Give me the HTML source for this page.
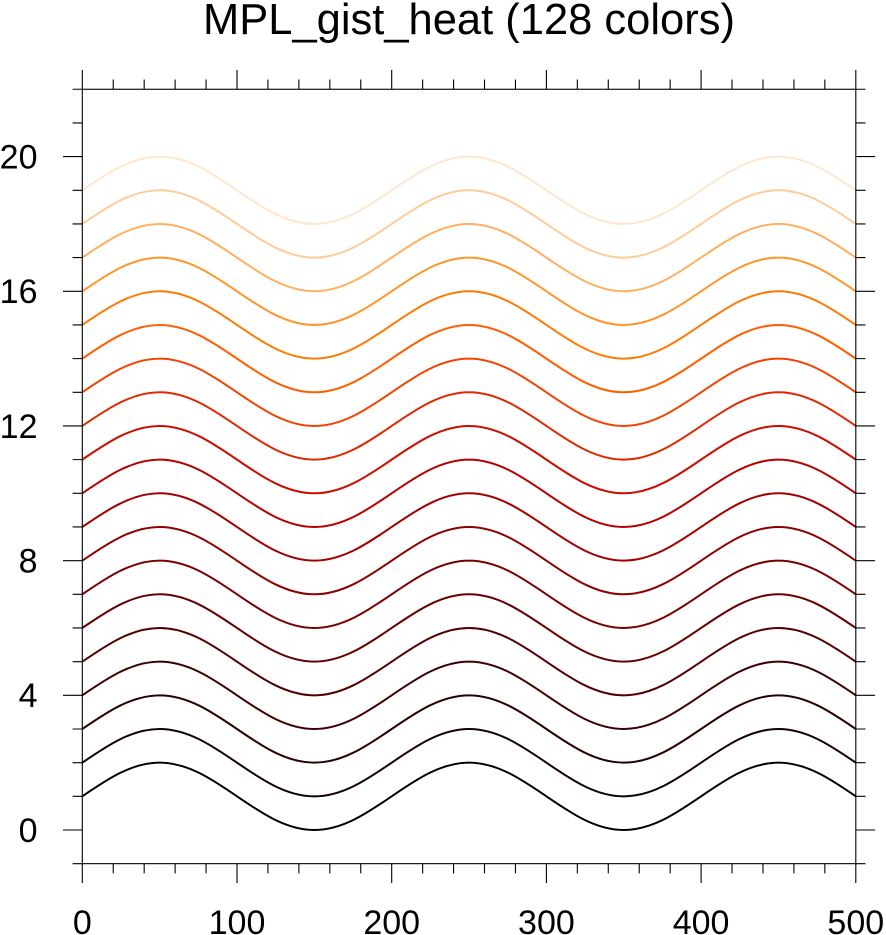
<!DOCTYPE html>
<html><head><meta charset="utf-8"><style>
html,body{margin:0;padding:0;background:#fff;}
svg{display:block;}
text{font-family:"Liberation Sans",Arial,sans-serif;fill:#000;}
</style></head><body>
<svg width="886" height="935" viewBox="0 0 886 935" xmlns="http://www.w3.org/2000/svg">
<defs>
<path id="c" d="M82.3,796.33 c25.22,-17.25 49.35,-33.67 77.35,-33.67 c28,0 52.13,16.42 77.35,33.67 c25.22,17.25 49.35,33.67 77.35,33.67 c28,0 52.13,-16.42 77.35,-33.67 c25.22,-17.25 49.35,-33.67 77.35,-33.67 c28,0 52.13,16.42 77.35,33.67 c25.22,17.25 49.35,33.67 77.35,33.67 c28,0 52.13,-16.42 77.35,-33.67 c25.22,-17.25 49.35,-33.67 77.35,-33.67 c28,0 52.13,16.42 77.35,33.67"/>
</defs>
<rect width="886" height="935" fill="#fff"/>
<text x="469" y="34" font-size="43.5" text-anchor="middle">MPL_gist_heat (128 colors)</text>

<g fill="none" stroke-width="2" stroke-linejoin="round">
<use href="#c" stroke="#000000"/>
<use href="#c" stroke="#140000" transform="translate(0,-33.67)"/>
<use href="#c" stroke="#280000" transform="translate(0,-67.34)"/>
<use href="#c" stroke="#3d0000" transform="translate(0,-101.01)"/>
<use href="#c" stroke="#510000" transform="translate(0,-134.68)"/>
<use href="#c" stroke="#650000" transform="translate(0,-168.35)"/>
<use href="#c" stroke="#790000" transform="translate(0,-202.02)"/>
<use href="#c" stroke="#8d0000" transform="translate(0,-235.69)"/>
<use href="#c" stroke="#a20000" transform="translate(0,-269.36)"/>
<use href="#c" stroke="#b60000" transform="translate(0,-303.03)"/>
<use href="#c" stroke="#ca0e00" transform="translate(0,-336.70)"/>
<use href="#c" stroke="#de2900" transform="translate(0,-370.37)"/>
<use href="#c" stroke="#f24400" transform="translate(0,-404.04)"/>
<use href="#c" stroke="#ff5f00" transform="translate(0,-437.71)"/>
<use href="#c" stroke="#ff7a00" transform="translate(0,-471.38)"/>
<use href="#c" stroke="#ff952b" transform="translate(0,-505.05)"/>
<use href="#c" stroke="#ffb061" transform="translate(0,-538.72)"/>
<use href="#c" stroke="#ffcb97" transform="translate(0,-572.39)"/>
<use href="#c" stroke="#ffe6cc" transform="translate(0,-606.06)"/>
</g>

<g fill="none" stroke="#000" stroke-width="1.1">
<rect x="82.3" y="89.26" width="773.5" height="774.41"/>
<path d="M82.3,89.26V70 M237,89.26V70 M391.7,89.26V70 M546.4,89.26V70 M701.1,89.26V70 M855.8,89.26V70
M82.3,863.67V883 M237,863.67V883 M391.7,863.67V883 M546.4,863.67V883 M701.1,863.67V883 M855.8,863.67V883"/>
<path d="M113.24,89.26V79.5 M144.18,89.26V79.5 M175.12,89.26V79.5 M206.06,89.26V79.5
M267.94,89.26V79.5 M298.88,89.26V79.5 M329.82,89.26V79.5 M360.76,89.26V79.5
M422.64,89.26V79.5 M453.58,89.26V79.5 M484.52,89.26V79.5 M515.46,89.26V79.5
M577.34,89.26V79.5 M608.28,89.26V79.5 M639.22,89.26V79.5 M670.16,89.26V79.5
M732.04,89.26V79.5 M762.98,89.26V79.5 M793.92,89.26V79.5 M824.86,89.26V79.5
M113.24,863.67V873.4 M144.18,863.67V873.4 M175.12,863.67V873.4 M206.06,863.67V873.4
M267.94,863.67V873.4 M298.88,863.67V873.4 M329.82,863.67V873.4 M360.76,863.67V873.4
M422.64,863.67V873.4 M453.58,863.67V873.4 M484.52,863.67V873.4 M515.46,863.67V873.4
M577.34,863.67V873.4 M608.28,863.67V873.4 M639.22,863.67V873.4 M670.16,863.67V873.4
M732.04,863.67V873.4 M762.98,863.67V873.4 M793.92,863.67V873.4 M824.86,863.67V873.4"/>
<path d="M63,830H82.3 M63,695.32H82.3 M63,560.64H82.3 M63,425.96H82.3 M63,291.28H82.3 M63,156.6H82.3
M855.8,830H875.1 M855.8,695.32H875.1 M855.8,560.64H875.1 M855.8,425.96H875.1 M855.8,291.28H875.1 M855.8,156.6H875.1"/>
<path d="M72.6,863.67H82.3 M72.6,796.33H82.3 M72.6,762.66H82.3 M72.6,728.99H82.3 M72.6,661.65H82.3 M72.6,627.98H82.3 M72.6,594.31H82.3 M72.6,526.97H82.3 M72.6,493.3H82.3 M72.6,459.63H82.3 M72.6,392.29H82.3 M72.6,358.62H82.3 M72.6,324.95H82.3 M72.6,257.61H82.3 M72.6,223.94H82.3 M72.6,190.27H82.3 M72.6,122.93H82.3 M72.6,89.26H82.3
M855.8,863.67H865.5 M855.8,796.33H865.5 M855.8,762.66H865.5 M855.8,728.99H865.5 M855.8,661.65H865.5 M855.8,627.98H865.5 M855.8,594.31H865.5 M855.8,526.97H865.5 M855.8,493.3H865.5 M855.8,459.63H865.5 M855.8,392.29H865.5 M855.8,358.62H865.5 M855.8,324.95H865.5 M855.8,257.61H865.5 M855.8,223.94H865.5 M855.8,190.27H865.5 M855.8,122.93H865.5 M855.8,89.26H865.5"/>
</g>

<g font-size="34" text-anchor="end">
<text x="37.5" y="841.8">0</text>
<text x="37.5" y="707.1">4</text>
<text x="37.5" y="572.4">8</text>
<text x="37.5" y="437.8">12</text>
<text x="37.5" y="303.1">16</text>
<text x="37.5" y="168.4">20</text>
</g>
<g font-size="34" text-anchor="middle">
<text x="82.3" y="934">0</text>
<text x="237" y="934">100</text>
<text x="391.7" y="934">200</text>
<text x="546.4" y="934">300</text>
<text x="701.1" y="934">400</text>
<text x="855.8" y="934">500</text>
</g>
</svg>
</body></html>
